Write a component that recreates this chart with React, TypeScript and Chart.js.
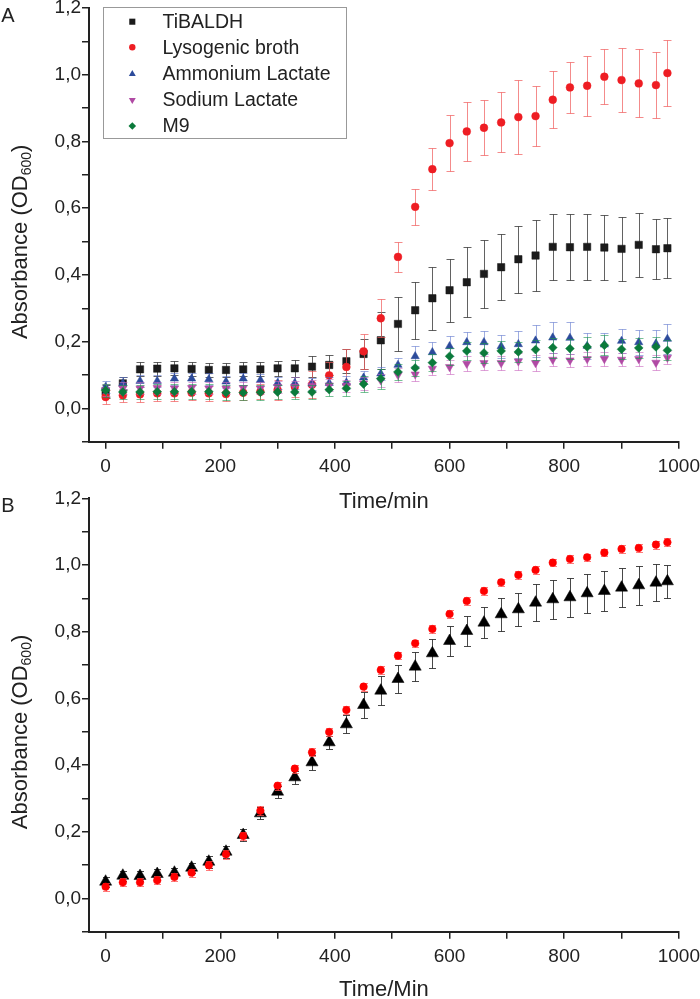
import React, { useEffect, useRef } from 'react';
import { Chart, registerables } from 'chart.js';
Chart.register(...registerables);

const FONT = '"Liberation Sans", Arial, Helvetica, sans-serif';

// ---------- Panel A data ----------
const timesA = [0, 30, 60, 90, 120, 150, 180, 210, 240, 270, 300, 330, 360, 390, 420, 450, 480, 510, 540, 570, 600, 630, 660, 690, 720, 750, 780, 810, 840, 870, 900, 930, 960, 980];
const tibaldh = [0.05, 0.075, 0.117, 0.119, 0.12, 0.118, 0.115, 0.115, 0.117, 0.117, 0.12, 0.12, 0.125, 0.13, 0.141, 0.163, 0.204, 0.253, 0.294, 0.33, 0.354, 0.378, 0.403, 0.423, 0.447, 0.458, 0.484, 0.483, 0.484, 0.482, 0.478, 0.49, 0.477, 0.48];
const tibaldhErr = [0.02, 0.02, 0.021, 0.021, 0.021, 0.021, 0.021, 0.021, 0.021, 0.021, 0.023, 0.025, 0.031, 0.031, 0.036, 0.044, 0.086, 0.08, 0.086, 0.094, 0.094, 0.105, 0.103, 0.099, 0.1, 0.107, 0.1, 0.099, 0.098, 0.097, 0.096, 0.095, 0.09, 0.09];
const lysogenic = [0.034, 0.039, 0.042, 0.045, 0.045, 0.047, 0.045, 0.043, 0.047, 0.05, 0.055, 0.065, 0.071, 0.099, 0.124, 0.171, 0.27, 0.454, 0.604, 0.717, 0.795, 0.83, 0.841, 0.857, 0.873, 0.876, 0.925, 0.962, 0.967, 0.994, 0.984, 0.974, 0.969, 1.005];
const lysogenicErr = [0.022, 0.02, 0.022, 0.022, 0.022, 0.022, 0.022, 0.022, 0.022, 0.022, 0.03, 0.03, 0.04, 0.04, 0.055, 0.052, 0.057, 0.045, 0.053, 0.064, 0.084, 0.088, 0.083, 0.09, 0.11, 0.09, 0.086, 0.076, 0.09, 0.083, 0.097, 0.102, 0.1, 0.1];
const ammonium = [0.064, 0.075, 0.082, 0.082, 0.089, 0.089, 0.087, 0.08, 0.089, 0.085, 0.076, 0.076, 0.074, 0.076, 0.077, 0.092, 0.104, 0.13, 0.156, 0.168, 0.186, 0.198, 0.198, 0.186, 0.192, 0.203, 0.212, 0.211, 0.187, 0.191, 0.202, 0.198, 0.194, 0.208];
const ammoniumErr = [0.018, 0.018, 0.018, 0.018, 0.018, 0.018, 0.018, 0.018, 0.018, 0.018, 0.018, 0.018, 0.018, 0.018, 0.02, 0.02, 0.02, 0.02, 0.03, 0.03, 0.03, 0.03, 0.035, 0.035, 0.04, 0.048, 0.046, 0.048, 0.04, 0.035, 0.035, 0.038, 0.04, 0.045];
const sodium = [0.055, 0.06, 0.06, 0.062, 0.06, 0.061, 0.06, 0.06, 0.061, 0.06, 0.064, 0.065, 0.068, 0.069, 0.068, 0.075, 0.084, 0.1, 0.102, 0.119, 0.124, 0.134, 0.136, 0.136, 0.141, 0.136, 0.146, 0.144, 0.148, 0.148, 0.146, 0.148, 0.137, 0.152];
const sodiumErr = [0.018, 0.018, 0.018, 0.018, 0.018, 0.018, 0.018, 0.018, 0.018, 0.018, 0.018, 0.018, 0.018, 0.018, 0.018, 0.02, 0.02, 0.02, 0.02, 0.02, 0.02, 0.022, 0.02, 0.02, 0.025, 0.025, 0.02, 0.02, 0.02, 0.02, 0.02, 0.02, 0.022, 0.02];
const m9 = [0.054, 0.049, 0.049, 0.05, 0.05, 0.05, 0.05, 0.047, 0.047, 0.048, 0.049, 0.049, 0.049, 0.056, 0.06, 0.073, 0.089, 0.109, 0.121, 0.137, 0.156, 0.172, 0.166, 0.172, 0.169, 0.176, 0.182, 0.179, 0.184, 0.189, 0.177, 0.181, 0.184, 0.174];
const m9Err = [0.02, 0.02, 0.022, 0.022, 0.022, 0.022, 0.022, 0.022, 0.022, 0.022, 0.02, 0.02, 0.02, 0.02, 0.022, 0.025, 0.03, 0.025, 0.025, 0.025, 0.025, 0.028, 0.03, 0.03, 0.03, 0.03, 0.03, 0.03, 0.03, 0.03, 0.03, 0.03, 0.03, 0.03];

// ---------- Panel B data ----------
const timesB = [0, 30, 60, 90, 120, 150, 180, 210, 240, 270, 300, 330, 360, 390, 420, 450, 480, 510, 540, 570, 600, 630, 660, 690, 720, 750, 780, 810, 840, 870, 900, 930, 960, 980];
const blackB = [0.05, 0.068, 0.067, 0.073, 0.077, 0.092, 0.11, 0.14, 0.19, 0.255, 0.32, 0.363, 0.408, 0.468, 0.522, 0.58, 0.623, 0.658, 0.695, 0.735, 0.772, 0.802, 0.827, 0.852, 0.867, 0.887, 0.897, 0.903, 0.915, 0.922, 0.932, 0.939, 0.947, 0.951];
const blackBErr = [0.015, 0.015, 0.015, 0.015, 0.015, 0.015, 0.018, 0.018, 0.018, 0.018, 0.018, 0.02, 0.023, 0.02, 0.027, 0.0375, 0.044, 0.042, 0.043, 0.043, 0.045, 0.045, 0.047, 0.05, 0.05, 0.056, 0.058, 0.058, 0.058, 0.06, 0.058, 0.058, 0.055, 0.049];
const redB = [0.035, 0.048, 0.048, 0.054, 0.064, 0.077, 0.099, 0.132, 0.187, 0.263, 0.338, 0.389, 0.438, 0.499, 0.565, 0.635, 0.685, 0.728, 0.765, 0.808, 0.853, 0.892, 0.922, 0.948, 0.97, 0.985, 1.007, 1.018, 1.023, 1.037, 1.048, 1.051, 1.061, 1.068];
const redBErr = [0.012, 0.012, 0.012, 0.012, 0.012, 0.012, 0.013, 0.013, 0.013, 0.013, 0.012, 0.012, 0.012, 0.012, 0.012, 0.012, 0.012, 0.011, 0.011, 0.011, 0.011, 0.011, 0.011, 0.011, 0.011, 0.011, 0.011, 0.011, 0.011, 0.011, 0.011, 0.011, 0.012, 0.012];

const xTitleA = 'Time/min';
const xTitleB = 'Time/Min';

const toXY = (xs: number[], ys: number[]) => xs.map((x, i) => ({ x, y: ys[i] }));

function markerPath(ctx: CanvasRenderingContext2D, style: string, x: number, y: number, r: number, rot: number) {
  ctx.beginPath();
  if (style === 'circle') {
    ctx.arc(x, y, r, 0, Math.PI * 2);
  } else if (style === 'rect') {
    const s = r * Math.SQRT1_2;
    ctx.rect(x - s, y - s, 2 * s, 2 * s);
  } else if (style === 'rectRot') {
    ctx.moveTo(x - r, y); ctx.lineTo(x, y - r); ctx.lineTo(x + r, y); ctx.lineTo(x, y + r); ctx.closePath();
  } else if (style === 'triangle') {
    const d = rot === 180 ? -1 : 1;
    const h = r;
    ctx.moveTo(x, y - d * h);
    ctx.lineTo(x - r * 0.866, y + d * h * 0.5);
    ctx.lineTo(x + r * 0.866, y + d * h * 0.5);
    ctx.closePath();
  }
}

const errorBarPlugin = {
  id: 'errorBars',
  beforeDatasetDraw(chart: any, args: any) {
    const ds = chart.data.datasets[args.index];
    if (!ds.errors) return;
    const ctx = chart.ctx;
    const y = chart.scales.y;
    const meta = args.meta;
    const cap = ds.capHalf || 4;
    ctx.save();
    ctx.strokeStyle = ds.errColor;
    ctx.lineWidth = 1;
    meta.data.forEach((pt: any, i: number) => {
      const v = ds.data[i].y;
      const e = ds.errors[i];
      const yt = Math.round(y.getPixelForValue(v + e)) + 0.5;
      const yb = Math.round(y.getPixelForValue(v - e)) + 0.5;
      const px = Math.round(pt.x) + 0.5;
      ctx.beginPath();
      ctx.moveTo(px, yt); ctx.lineTo(px, yb);
      ctx.moveTo(px - cap, yt); ctx.lineTo(px + cap, yt);
      ctx.moveTo(px - cap, yb); ctx.lineTo(px + cap, yb);
      ctx.stroke();
    });
    ctx.restore();
  },
};

function decorPlugin(letter: string, showLegend: boolean) {
  return {
    id: 'decor' + letter,
    afterDraw(chart: any) {
      const ctx = chart.ctx;
      const area = chart.chartArea;
      ctx.save();
      ctx.fillStyle = '#222';
      ctx.font = `20px ${FONT}`;
      ctx.textAlign = 'center';
      ctx.textBaseline = 'middle';
      ctx.fillText(letter, 8, 26);
      const cy = (area.top + area.bottom) / 2 + 17;
      const big = `22px ${FONT}`;
      const small = `14px ${FONT}`;
      ctx.font = big;
      const t1 = 'Absorbance (OD';
      const t3 = ')';
      const w1 = ctx.measureText(t1).width;
      const w3 = ctx.measureText(t3).width;
      ctx.font = small;
      const w2 = ctx.measureText('600').width;
      const total = w1 + w2 + w3;
      ctx.translate(21, cy);
      ctx.rotate(-Math.PI / 2);
      ctx.textAlign = 'left';
      ctx.textBaseline = 'middle';
      ctx.font = big;
      let xx = -total / 2;
      ctx.fillText(t1, xx, 0);
      xx += w1;
      ctx.font = small;
      ctx.fillText('600', xx, 6);
      xx += w2;
      ctx.font = big;
      ctx.fillText(t3, xx, 0);
      ctx.restore();

      if (showLegend) {
        ctx.save();
        ctx.strokeStyle = '#999';
        ctx.lineWidth = 1;
        ctx.strokeRect(103.5, 17.5, 243, 131);
        const rows = [31.7, 57.3, 84, 110, 136];
        ctx.font = `19.5px ${FONT}`;
        ctx.textAlign = 'left';
        ctx.textBaseline = 'middle';
        chart.data.datasets.forEach((ds: any, i: number) => {
          ctx.fillStyle = ds.pointBackgroundColor;
          markerPath(ctx, ds.pointStyle, 132.3, rows[i], ds.legendRadius, ds.pointRotation || 0);
          ctx.fill();
          ctx.fillStyle = '#222';
          ctx.fillText(ds.label, 162.5, rows[i] + 1);
        });
        ctx.restore();
      }
    },
  };
}

function makeScales(xTitle: string, titlePadBottom: number) {
  return {
    x: {
      type: 'linear',
      min: -29,
      max: 1000,
      afterFit: (s: any) => { s.height = 73.3; },
      ticks: {
        stepSize: 100,
        includeBounds: false,
        padding: 0,
        color: '#222',
        font: { family: FONT, size: 19, lineHeight: 36 / 19 },
        maxRotation: 0,
        autoSkip: false,
        callback: (v: number) => (Math.round(v) % 200 === 0 ? String(Math.round(v)) : ''),
      },
      grid: { display: true, drawOnChartArea: false, drawTicks: true, tickLength: 7, color: '#222', lineWidth: 1.5 },
      border: { display: true, color: '#222', width: 2 },
      title: { display: true, text: xTitle, color: '#222', font: { family: FONT, size: 22 }, padding: { top: 0, bottom: titlePadBottom } },
    },
    y: {
      type: 'linear',
      min: -0.1,
      max: 1.2,
      afterFit: (s: any) => { s.width = 89; },
      ticks: {
        stepSize: 0.1,
        includeBounds: false,
        padding: 1,
        color: '#222',
        font: { family: FONT, size: 19 },
        autoSkip: false,
        callback: (v: number) => {
          const k = Math.round(v * 10);
          return k >= 0 && k % 2 === 0 ? (k / 10).toFixed(1).replace('.', ',') : '';
        },
      },
      grid: { display: true, drawOnChartArea: false, drawTicks: true, tickLength: 7, color: '#222', lineWidth: 1.5 },
      border: { display: true, color: '#222', width: 2 },
      title: { display: false },
    },
  };
}

function baseOptions(xTitle: string, padTop: number, titlePadBottom: number) {
  return {
    responsive: false,
    animation: false,
    events: [],
    layout: { padding: { top: padTop, right: 20, bottom: 0, left: 0 } },
    plugins: { legend: { display: false }, tooltip: { enabled: false } },
    scales: makeScales(xTitle, titlePadBottom),
  };
}

function ds(label: string, xs: number[], ys: number[], errs: number[], style: string, r: number, color: string, errColor: string, order: number, extra: any = {}) {
  return {
    label,
    data: toXY(xs, ys),
    errors: errs,
    errColor,
    pointStyle: style,
    pointRadius: r,
    pointBackgroundColor: color,
    pointBorderColor: color,
    pointBorderWidth: 0.5,
    backgroundColor: color,
    borderColor: color,
    showLine: false,
    order,
    ...extra,
  };
}

export default function App() {
  const refA = useRef<HTMLCanvasElement>(null);
  const refB = useRef<HTMLCanvasElement>(null);

  useEffect(() => {
    const chartA = new Chart(refA.current as HTMLCanvasElement, {
      type: 'scatter',
      data: {
        datasets: [
          ds('TiBALDH', timesA, tibaldh, tibaldhErr, 'rect', 5.2, '#1b1b1b', 'rgba(45,45,45,0.75)', 5, { legendRadius: 4.3 }),
          ds('Lysogenic broth', timesA, lysogenic, lysogenicErr, 'circle', 3.9, '#ee1d23', 'rgba(240,90,90,0.7)', 4, { legendRadius: 3.2 }),
          ds('Ammonium Lactate', timesA, ammonium, ammoniumErr, 'triangle', 4.8, '#2c4b9b', 'rgba(80,105,200,0.55)', 3, { legendRadius: 4 }),
          ds('Sodium Lactate', timesA, sodium, sodiumErr, 'triangle', 4.8, '#b04aa4', 'rgba(200,100,190,0.6)', 2, { pointRotation: 180, legendRadius: 4 }),
          ds('M9', timesA, m9, m9Err, 'rectRot', 4.4, '#0b7a3b', 'rgba(30,150,80,0.6)', 1, { legendRadius: 3.8 }),
        ],
      },
      options: baseOptions(xTitleA, 18, 0) as any,
      plugins: [errorBarPlugin, decorPlugin('A', true)],
    } as any);

    const chartB = new Chart(refB.current as HTMLCanvasElement, {
      type: 'scatter',
      data: {
        datasets: [
          ds('Black', timesB, blackB, blackBErr, 'triangle', 7, '#000000', 'rgba(40,40,40,0.85)', 2, { capHalf: 3.5 }),
          ds('Red', timesB, redB, redBErr, 'circle', 3.8, '#ff0000', 'rgba(255,80,80,0.75)', 1, { capHalf: 3.5 }),
        ],
      },
      options: baseOptions(xTitleB, 18.3, 1.8) as any,
      plugins: [errorBarPlugin, decorPlugin('B', false)],
    } as any);

    return () => {
      chartA.destroy();
      chartB.destroy();
    };
  }, []);

  return (
    <div style={{ position: 'absolute', left: 0, top: 0, width: 700, height: 999, overflow: 'hidden', background: '#fff' }}>
      <canvas ref={refA} width={700} height={525} style={{ position: 'absolute', left: 0, top: -10, display: 'block' }} />
      <canvas ref={refB} width={700} height={525} style={{ position: 'absolute', left: 0, top: 480, display: 'block' }} />
    </div>
  );
}
